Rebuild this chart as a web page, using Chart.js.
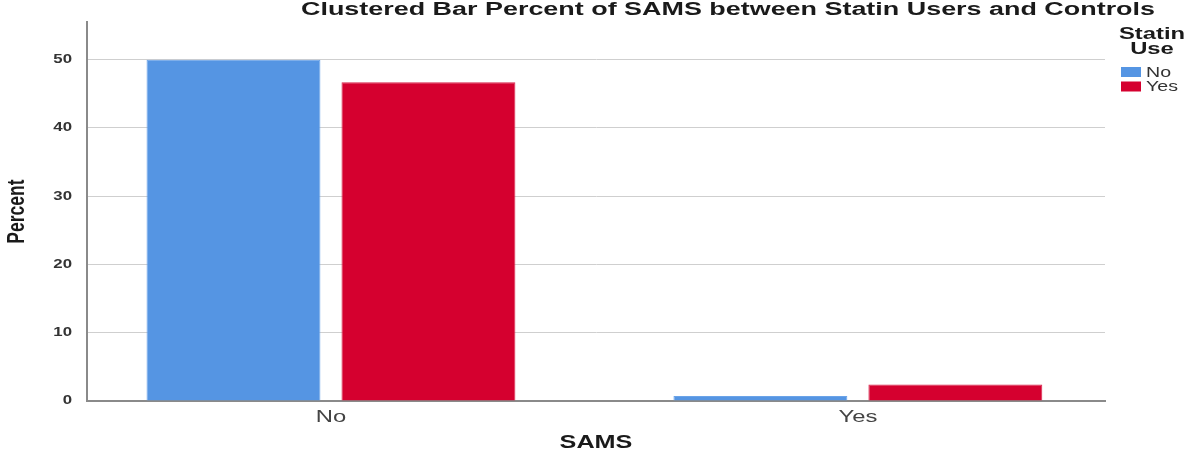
<!DOCTYPE html>
<html>
<head>
<meta charset="utf-8">
<script src="https://cdn.jsdelivr.net/npm/chart.js@4.4.1/dist/chart.umd.min.js"></script>
<style>
html,body{margin:0;padding:0;background:#fff;}
#wrap{width:1200px;height:458px;position:relative;}
</style>
</head>
<body>
<div id="wrap"><canvas id="c" width="1200" height="458"></canvas></div>
<script>
const chartTitle = 'Clustered Bar Percent of SAMS between Statin Users and Controls';
const categories = ['No', 'Yes'];           // SAMS
const seriesNames = ['No', 'Yes'];          // Statin Use
const statinNo = [50.0, 0.75];
const statinYes = [46.7, 2.4];
const yTicks = [0, 10, 20, 30, 40, 50];
const legendTitle = ['Statin', 'Use'];
const xTitle = 'SAMS';
const yTitle = 'Percent';

const colors = ['#5595e3', '#d5002f'];

// The reference picture is stretched horizontally; stretch text the same way.
const STRETCH = 1.4;
let textStretch = STRETCH;
const origFill = CanvasRenderingContext2D.prototype.fillText;
CanvasRenderingContext2D.prototype.fillText = function (text, x, y, maxW) {
  const t = this.getTransform();
  const rotated = Math.abs(t.b) > 1e-6;
  this.save();
  this.translate(x, y);
  if (rotated) this.scale(1, textStretch); else this.scale(textStretch, 1);
  if (maxW === undefined) origFill.call(this, text, 0, 0);
  else origFill.call(this, text, 0, 0, maxW / textStretch);
  this.restore();
};

const toPts = arr => arr.map((v, i) => ({x: i, y: v}));
const FONT = '"Liberation Sans", Arial, sans-serif';

const overlay = {
  id: 'overlay',
  afterDraw(chart) {
    const ctx = chart.ctx;
    ctx.save();
    // title
    ctx.font = 'bold 17.5px ' + FONT;
    ctx.fillStyle = '#1a1a1a';
    ctx.textBaseline = 'middle';
    ctx.textAlign = 'center';
    const w = ctx.measureText(chartTitle).width;
    textStretch = 854 / w;
    ctx.fillText(chartTitle, 728, 10.5);
    textStretch = STRETCH;
    // legend title
    ctx.font = 'bold 17px ' + FONT;
    ctx.fillText(legendTitle[0], 1152, 34);
    ctx.fillText(legendTitle[1], 1152, 49.5);
    // legend items
    ctx.textAlign = 'left';
    ctx.font = '14px ' + FONT;
    chart.data.datasets.forEach((ds, i) => {
      const y = 67 + i * 14.5;
      ctx.fillStyle = ds.backgroundColor;
      ctx.fillRect(1121, y, 20, 10);
      ctx.fillStyle = '#333';
      ctx.fillText(ds.label, 1146, y + 6);
    });
    ctx.restore();
  }
};

new Chart(document.getElementById('c'), {
  type: 'bar',
  data: {
    datasets: [
      {label: seriesNames[0], data: toPts(statinNo), backgroundColor: colors[0], borderColor: '#6aa3e8', borderWidth: 1,
       categoryPercentage: 0.74, barPercentage: 0.892},
      {label: seriesNames[1], data: toPts(statinYes), backgroundColor: colors[1], borderColor: '#d9234a', borderWidth: 1,
       categoryPercentage: 0.74, barPercentage: 0.892}
    ]
  },
  options: {
    responsive: false,
    animation: false,
    layout: {padding: {top: 19, right: 95, left: 0, bottom: 0}},
    plugins: {
      legend: {display: false},
      title: {display: false},
      tooltip: {enabled: false}
    },
    scales: {
      x: {
        type: 'linear',
        offset: false,
        min: -0.463,
        max: 1.469,
        afterBuildTicks: s => { s.ticks = categories.map((c, i) => ({value: i})); },
        afterFit: s => { s.height = 57; },
        grid: {display: false, drawTicks: false},
        border: {display: true, color: '#8a8a8a', width: 2},
        ticks: {
          callback: v => categories[v],
          font: {family: FONT, size: 17},
          color: '#444',
          padding: 6,
          maxRotation: 0
        },
        title: {
          display: true, text: xTitle,
          font: {family: FONT, size: 18, weight: 'bold'},
          color: '#1a1a1a',
          padding: {top: 0, bottom: 4}
        }
      },
      y: {
        min: 0,
        max: 55.5,
        afterBuildTicks: s => { s.ticks = yTicks.map(v => ({value: v})); },
        afterFit: s => { s.width = 87; },
        grid: {color: '#cfcfcf', lineWidth: 1, drawTicks: false},
        border: {display: true, color: '#8a8a8a', width: 2},
        ticks: {
          font: {family: FONT, size: 12, weight: 'bold'},
          color: '#333',
          padding: 15
        },
        title: {
          display: true, text: yTitle,
          font: {family: '"Liberation Sans Narrow", "Liberation Sans", Arial, sans-serif', size: 17.5, weight: 'bold'},
          color: '#1a1a1a',
          padding: {top: 7, bottom: 0}
        }
      }
    }
  },
  plugins: [overlay]
});
</script>
</body>
</html>
